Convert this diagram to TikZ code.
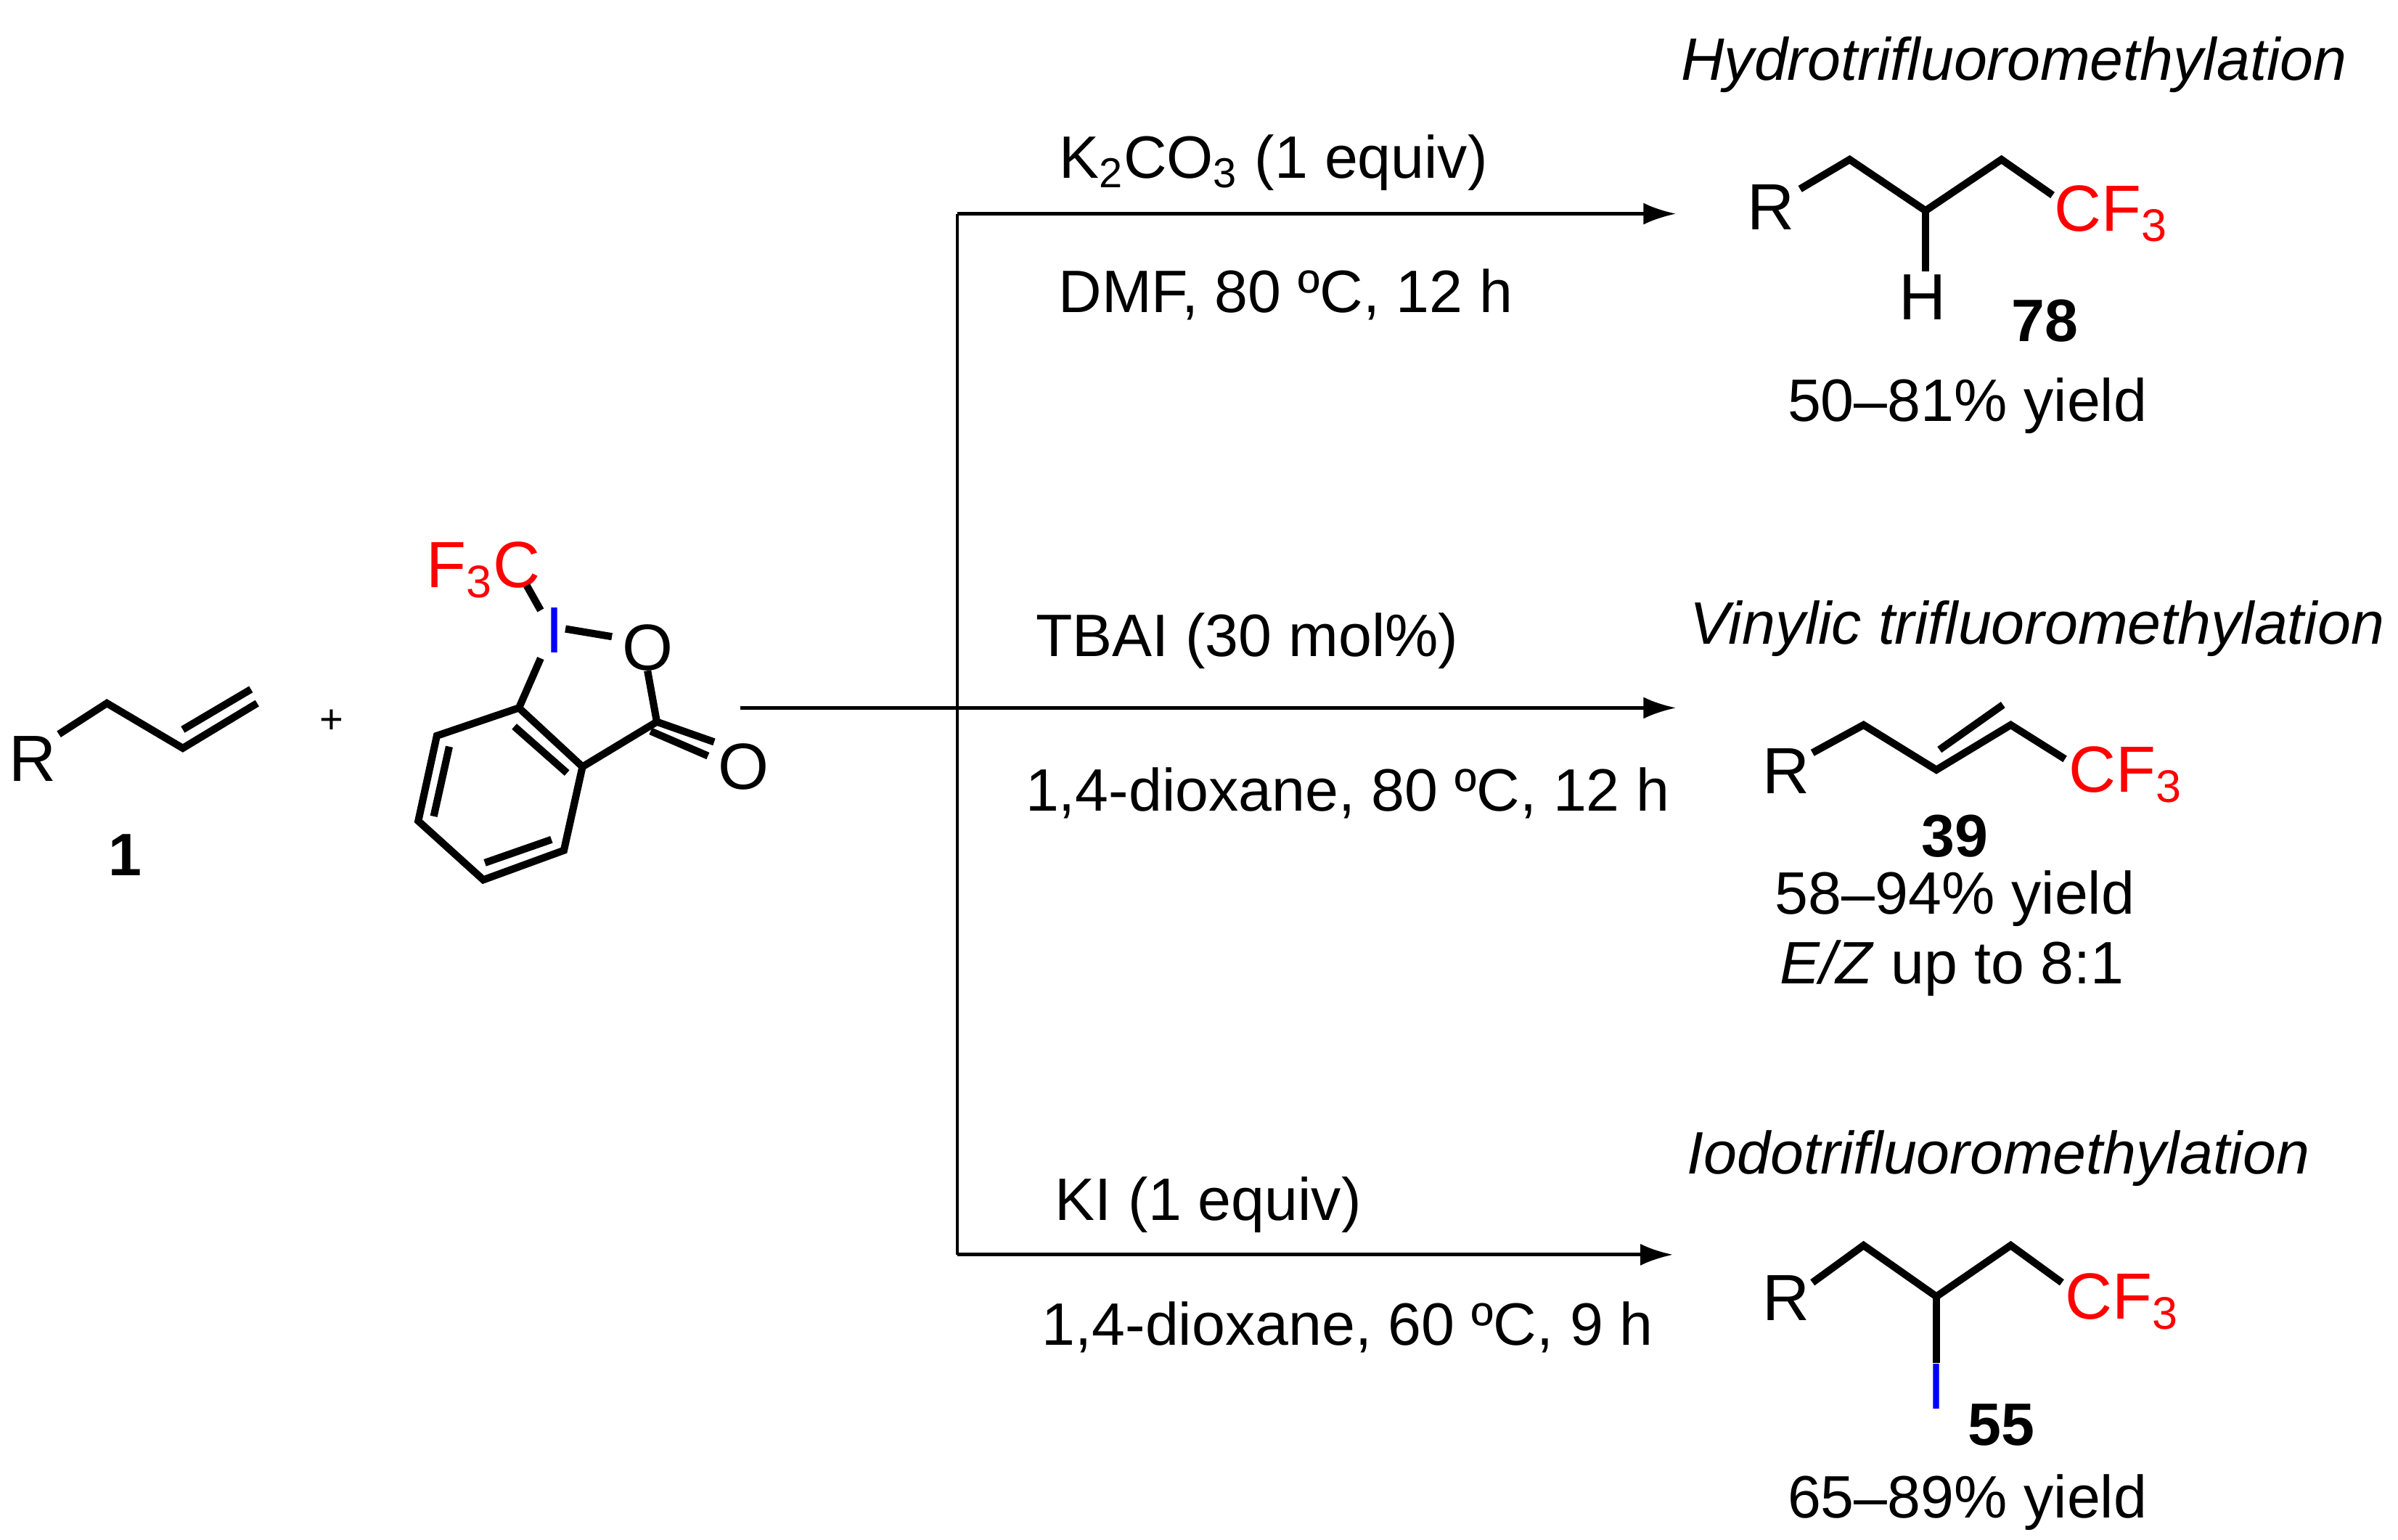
\documentclass[tikz,border=0pt]{standalone}
\usepackage{fontspec}
\setmainfont{Liberation Sans}
\usetikzlibrary{arrows.meta}
\begin{document}
\begin{tikzpicture}[x=0.02cm,y=-0.02cm,
  bond/.style={line width=2.7pt,line cap=butt},
  rxn/.style={line width=1.3pt},
  arr/.style={rxn,-{Latex[length=12pt,width=8pt]}},
  txt/.style={font=\fontsize{22}{26}\selectfont,inner sep=0pt},
  atm/.style={font=\fontsize{24}{28}\selectfont,inner sep=0pt},
  red/.style={atm,text={rgb,255:red,255;green,0;blue,0}},
  blu/.style={atm,text={rgb,255:red,0;green,0;blue,255}},
  bnum/.style={txt,font=\fontsize{22}{26}\selectfont\bfseries}]
\useasboundingbox (0,0) rectangle (1548,994);
% reactant 1
\node[atm] (R1) at (21,490) {R};
\draw[bond,line join=miter] (38,474) -- (69,454) -- (118,483) -- (166,454);
\draw[bond] (118,471) -- (162,445);
\node[bnum] (n1) at (81,552) {1};
\node[txt,font=\fontsize{15}{18}\selectfont] (plus) at (214,466) {+};
% Togni reagent
\node[red] (F3C) at (312,368) {F\textsubscript{3}C};
\node[blu] (I) at (358,407) {I};
\node[atm] (O1) at (418,418) {O};
\node[atm] (O2) at (480,495) {O};
\draw[bond] (340,378) -- (349,394);
\draw[bond] (365,406) -- (395,411);
\draw[bond] (349,425) -- (335,457);
\draw[bond] (418,433) -- (424,466);
\draw[bond] (424,466) -- (461,479);
\draw[bond] (420,472) -- (457,488);
\draw[bond] (424,466) -- (376,495);
\draw[bond,line join=miter] (335,457) -- (376,495) -- (364,549) -- (312,568) -- (270,530) -- (282,475) -- cycle;
\draw[bond] (332,469) -- (366,499);
\draw[bond] (356,542) -- (313,557);
\draw[bond] (280,527) -- (290,482);
% arrows
\coordinate (start) at (478,457);
\coordinate (top) at (618,138);
\coordinate (bot) at (618,810);
\coordinate (e1) at (1082,138);
\coordinate (e2) at (1082,457);
\coordinate (e3) at (1080,810);
\draw[rxn] (top) -- (bot);
\draw[arr] (top) -- (e1);
\draw[arr] (start) -- (e2);
\draw[arr] (bot) -- (e3);
% conditions
\node[txt] (c1) at (822,105) {K\textsubscript{2}CO\textsubscript{3} (1 equiv)};
\node[txt] (c2) at (830,190) {DMF, 80 ºC, 12 h};
\node[txt] (c3) at (805,414) {TBAI (30 mol\%)};
\node[txt] (c4) at (870,512) {1,4-dioxane, 80 ºC, 12 h};
\node[txt] (c5) at (780,778) {KI (1 equiv)};
\node[txt] (c6) at (870,857) {1,4-dioxane, 60 ºC, 9 h};
% product 78
\node[txt,font=\fontsize{22}{26}\selectfont\itshape] (t1) at (1300,42) {Hydrotrifluoromethylation};
\node[atm] (R2) at (1143,134) {R};
\draw[bond,line join=miter] (1162,122) -- (1194,103) -- (1243,136) -- (1292,103) -- (1325,126);
\draw[bond] (1243,136) -- (1243,175);
\node[atm] (H) at (1241,192) {H};
\node[red,anchor=west] (cf1) at (1326,138) {CF\textsubscript{3}};
\node[bnum] (n78) at (1320,207) {78};
\node[txt] (y1) at (1270,262) {50–81\% yield};
% product 39
\node[txt,font=\fontsize{22}{26}\selectfont\itshape] (t2) at (1315,406) {Vinylic trifluoromethylation};
\node[atm] (R3) at (1153,498) {R};
\draw[bond,line join=miter] (1170,486) -- (1203,468) -- (1250,497) -- (1298,468) -- (1333,490);
\draw[bond] (1252,484) -- (1293,455);
\node[red,anchor=west] (cf2) at (1335,500) {CF\textsubscript{3}};
\node[bnum] (n39) at (1262,540) {39};
\node[txt] (y2) at (1262,580) {58–94\% yield};
\node[txt] (ez) at (1260,625) {\textit{E/Z} up to 8:1};
% product 55
\node[txt,font=\fontsize{22}{26}\selectfont\itshape] (t3) at (1290,748) {Iodotrifluoromethylation};
\node[atm] (R4) at (1153,838) {R};
\draw[bond,line join=miter] (1170,828) -- (1203,804) -- (1250,837) -- (1298,804) -- (1331,828);
\draw[bond] (1250,837) -- (1250,880);
\node[blu] (I2) at (1250,895) {I};
\node[red,anchor=west] (cf3) at (1333,840) {CF\textsubscript{3}};
\node[bnum] (n55) at (1292,920) {55};
\node[txt] (y3) at (1270,970) {65–89\% yield};
\end{tikzpicture}
\end{document}
